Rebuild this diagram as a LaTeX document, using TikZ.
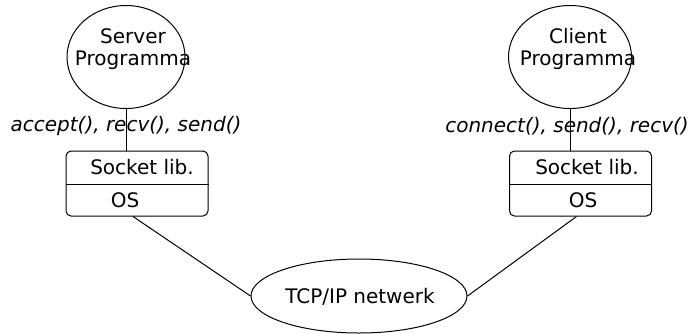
\documentclass[tikz,border=0pt]{standalone}
\usepackage{fontspec}
\setmainfont{DejaVu Sans}
\usetikzlibrary{shapes.geometric}

\tikzset{
	prog/.style={draw, ellipse, inner sep=0pt, line width=1pt},
	stack/.style={draw, rectangle, rounded corners=5pt, inner sep=0pt,
		minimum width=142pt, minimum height=65pt, line width=1pt},
	txt/.style={inner sep=0pt, align=center, font=\fontsize{20}{22}\selectfont},
	call/.style={txt, font=\fontsize{20}{22}\selectfont\itshape},
	wire/.style={line width=1pt}
}

\begin{document}
\begin{tikzpicture}[x=1pt, y=-1pt]

	\useasboundingbox (0,0) rectangle (693,333);

	% programs
	\node[prog, minimum width=118pt, minimum height=103pt] (server) at (126,57) {};
	\node[prog, minimum width=123pt, minimum height=103pt] (client) at (570,57) {};
	\node[txt] (servertxt) at (133,49) {Server\\Programma};
	\node[txt] (clienttxt) at (578,49) {Client\\Programma};

	% socket library over OS
	\node[stack] (sboxS) at (137,183.5) {};
	\node[stack] (sboxC) at (580.5,183.5) {};
	\draw[wire] (sboxS.west |- 0,184) -- (sboxS.east |- 0,184);
	\draw[wire] (sboxC.west |- 0,184) -- (sboxC.east |- 0,184);
	\node[txt] (libS) at (142,167) {Socket lib.};
	\node[txt] (osS) at (125,200) {OS};
	\node[txt] (libC) at (587,167) {Socket lib.};
	\node[txt] (osC) at (583,200) {OS};

	% network
	\node[prog, minimum width=216pt, minimum height=74pt] (net) at (359,296) {};
	\node[txt] (nettxt) at (360,297) {TCP/IP netwerk};

	% connectors
	\draw[wire] (server.south) -- (server.south |- sboxS.north);
	\draw[wire] (client.south) -- (client.south |- sboxC.north);
	\draw[wire] ([xshift=-4pt]sboxS.south) -- (net.west);
	\draw[wire] ([xshift=-4pt]sboxC.south) -- (net.east);

	% calls
	\node[call] (callS) at (126,126) {accept(), recv(), send()};
	\node[call] (callC) at (567,126) {connect(), send(), recv()};

\end{tikzpicture}
\end{document}
